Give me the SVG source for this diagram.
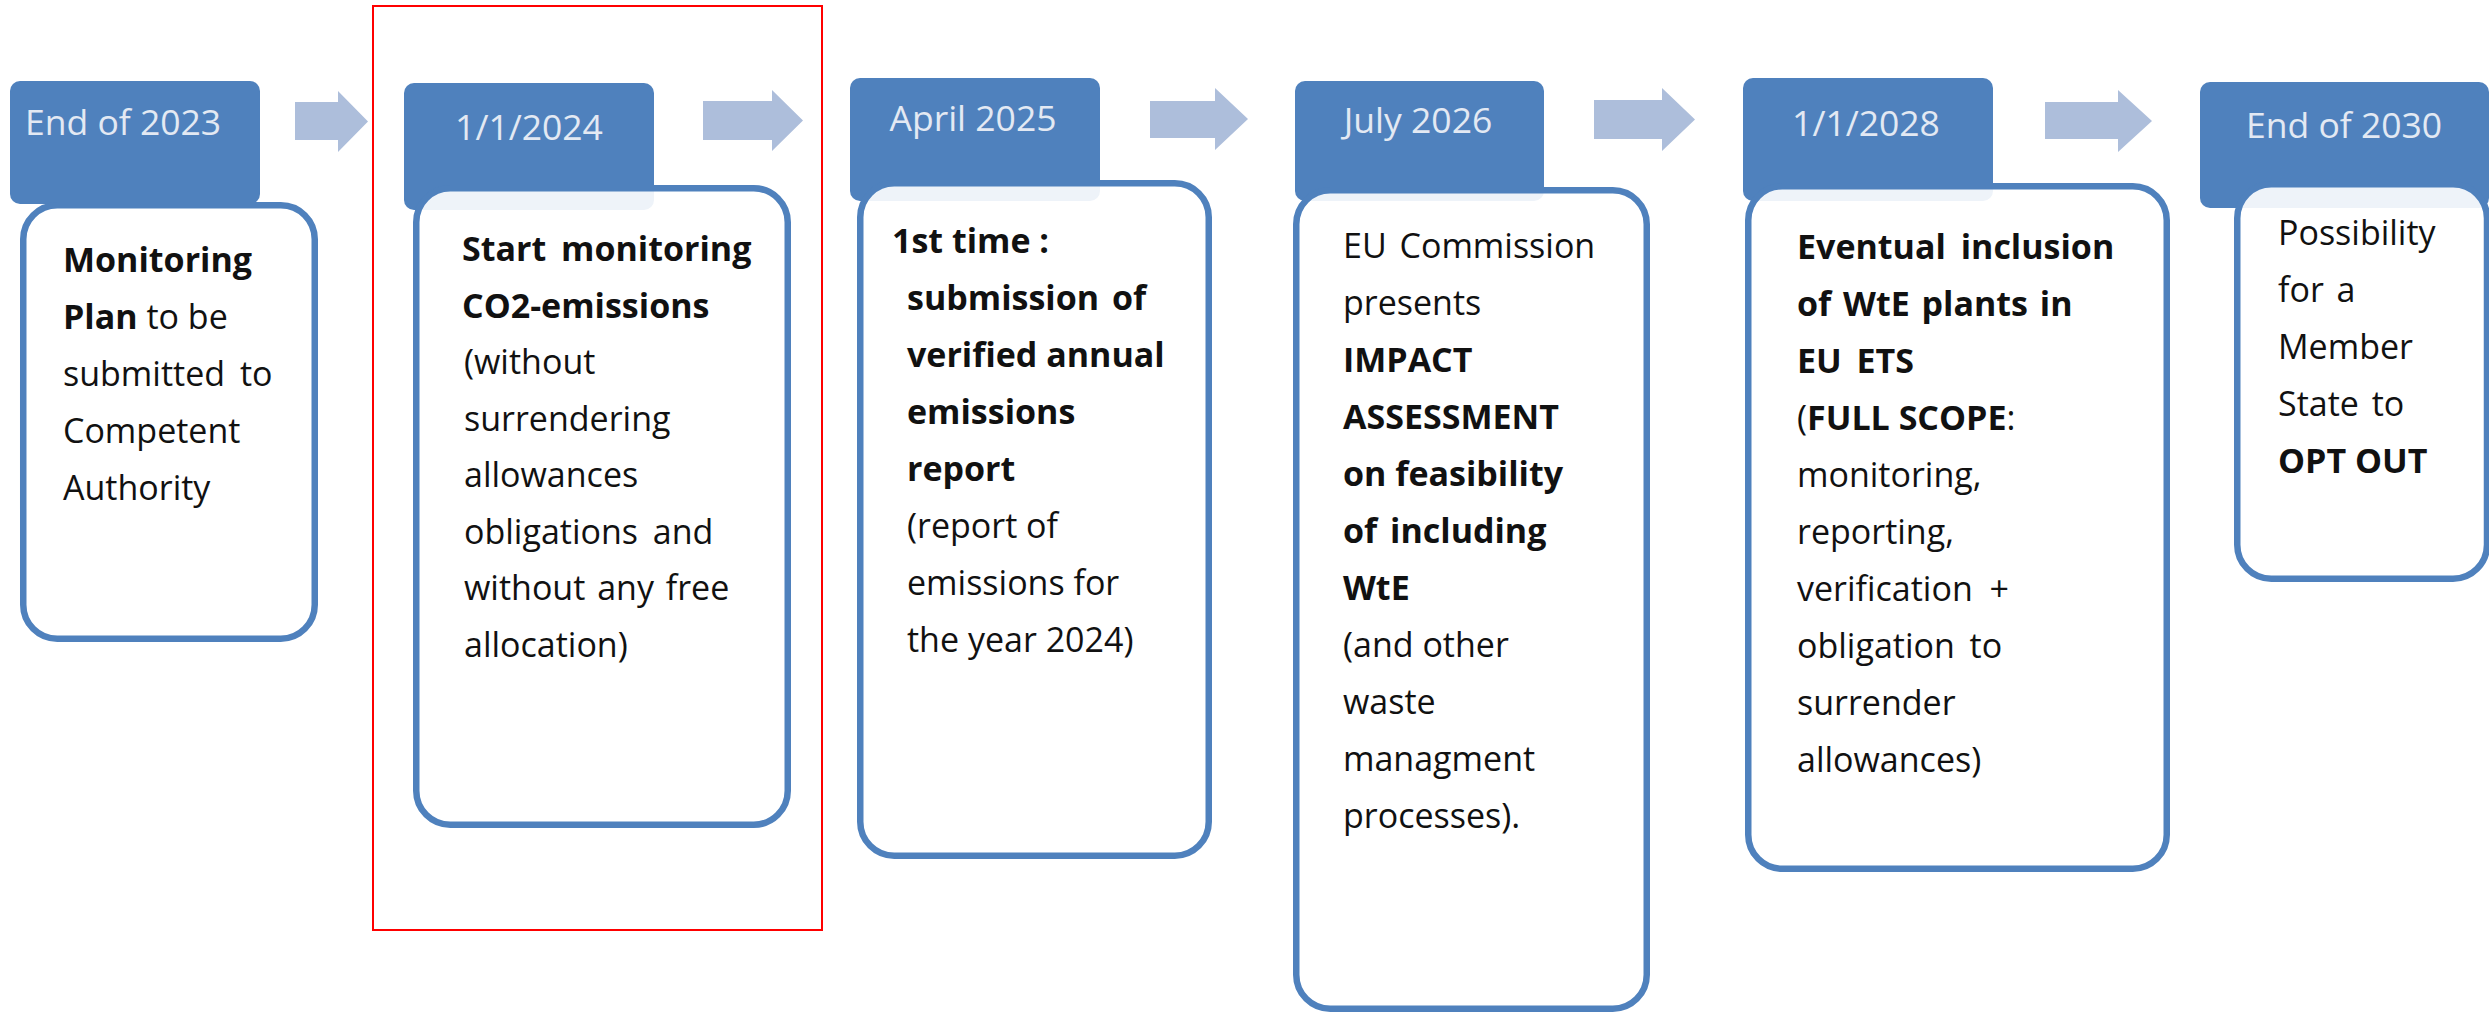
<svg xmlns="http://www.w3.org/2000/svg" width="2489" height="1013" viewBox="0 0 2489 1013">
  <style>
    .hdr { fill: #4f81bd; }
    .card { fill: #ffffff; fill-opacity: 0.9; stroke: #4f81bd; stroke-width: 6.5; }
    .ht { font-family: "Open Sans", "Noto Sans", sans-serif; font-size: 35.5px; fill: #e3e9f3; }
    .bt { font-family: "Open Sans", "Noto Sans", sans-serif; font-size: 34px; fill: #111111; }
    .b { font-weight: 700; }
    .arrow { fill: #adbedb; }
    .frame { fill: none; stroke: #ff0000; stroke-width: 2; }
  </style>
  <rect width="2489" height="1013" fill="#ffffff"/>

  <!-- block arrows between milestones -->
  <g id="connectors">
    <polygon class="arrow" points="295,102 338,102 338,91 368,121.5 338,152 338,140 295,140"/>
    <polygon class="arrow" points="703,101 772,101 772,90 803,120.5 772,151 772,140 703,140"/>
    <polygon class="arrow" points="1150,101 1215,101 1215,88 1248,119 1215,150 1215,138 1150,138"/>
    <polygon class="arrow" points="1594,100 1662,100 1662,88 1695,119.5 1662,151 1662,139 1594,139"/>
    <polygon class="arrow" points="2045,102 2118,102 2118,90 2152,121 2118,152 2118,139 2045,139"/>
  </g>

  <g id="node-2023">
    <rect class="hdr" x="10" y="81" width="250" height="123" rx="10"/>
    <text class="ht" x="25" y="135">End of 2023</text>
    <rect class="card" x="23.25" y="205.25" width="291.5" height="433.5" rx="34"/>
    <text class="bt" x="63" y="272"><tspan class="b">Monitoring</tspan></text>
    <text class="bt" x="63" y="329"><tspan class="b">Plan</tspan> to be</text>
    <text class="bt" x="63" y="386" word-spacing="6">submitted to</text>
    <text class="bt" x="63" y="443">Competent</text>
    <text class="bt" x="63" y="500">Authority</text>
  </g>

  <g id="node-2024">
    <rect class="hdr" x="404" y="83" width="250" height="127" rx="10"/>
    <text class="ht" x="529" y="140" text-anchor="middle">1/1/2024</text>
    <rect class="card" x="416.25" y="188.25" width="371.5" height="636.5" rx="34"/>
    <text class="bt b" x="462" y="261" word-spacing="6">Start monitoring</text>
    <text class="bt b" x="462" y="317.5">CO2-emissions</text>
    <text class="bt" x="464" y="374">(without</text>
    <text class="bt" x="464" y="430.5">surrendering</text>
    <text class="bt" x="464" y="487">allowances</text>
    <text class="bt" x="464" y="543.5" word-spacing="6">obligations and</text>
    <text class="bt" x="464" y="600" word-spacing="3">without any free</text>
    <text class="bt" x="464" y="656.5">allocation)</text>
  </g>

  <g id="node-2025">
    <rect class="hdr" x="850" y="78" width="250" height="123" rx="10"/>
    <text class="ht" x="973" y="131" text-anchor="middle">April 2025</text>
    <rect class="card" x="860.25" y="183.25" width="348.5" height="672.5" rx="34"/>
    <text class="bt b" x="892" y="253">1st time :</text>
    <text class="bt b" x="907" y="310" word-spacing="4">submission of</text>
    <text class="bt b" x="907" y="367">verified annual</text>
    <text class="bt b" x="907" y="424">emissions</text>
    <text class="bt b" x="907" y="481">report</text>
    <text class="bt" x="907" y="538">(report of</text>
    <text class="bt" x="907" y="595">emissions for</text>
    <text class="bt" x="907" y="652">the year 2024)</text>
  </g>

  <g id="node-2026">
    <rect class="hdr" x="1295" y="81" width="249" height="120" rx="10"/>
    <text class="ht" x="1418" y="133" text-anchor="middle">July 2026</text>
    <rect class="card" x="1296.25" y="190.25" width="350.5" height="818.5" rx="34"/>
    <text class="bt" x="1343" y="258" word-spacing="4">EU Commission</text>
    <text class="bt" x="1343" y="315">presents</text>
    <text class="bt b" x="1343" y="372">IMPACT</text>
    <text class="bt b" x="1343" y="429">ASSESSMENT</text>
    <text class="bt b" x="1343" y="486">on feasibility</text>
    <text class="bt b" x="1343" y="543" word-spacing="4">of including</text>
    <text class="bt b" x="1343" y="600">WtE</text>
    <text class="bt" x="1343" y="657">(and other</text>
    <text class="bt" x="1343" y="714">waste</text>
    <text class="bt" x="1343" y="771">managment</text>
    <text class="bt" x="1343" y="828">processes).</text>
  </g>

  <g id="node-2028">
    <rect class="hdr" x="1743" y="78" width="250" height="123" rx="10"/>
    <text class="ht" x="1866" y="136" text-anchor="middle">1/1/2028</text>
    <rect class="card" x="1748.25" y="186.25" width="418.5" height="682.5" rx="34"/>
    <text class="bt b" x="1797" y="259" word-spacing="6">Eventual inclusion</text>
    <text class="bt b" x="1797" y="316" word-spacing="3">of WtE plants in</text>
    <text class="bt b" x="1797" y="373" word-spacing="6">EU ETS</text>
    <text class="bt" x="1797" y="430">(<tspan class="b">FULL SCOPE</tspan>:</text>
    <text class="bt" x="1797" y="487">monitoring,</text>
    <text class="bt" x="1797" y="544">reporting,</text>
    <text class="bt" x="1797" y="601" word-spacing="8">verification +</text>
    <text class="bt" x="1797" y="658" word-spacing="6">obligation to</text>
    <text class="bt" x="1797" y="715">surrender</text>
    <text class="bt" x="1797" y="772">allowances)</text>
  </g>

  <g id="node-2030">
    <rect class="hdr" x="2200" y="82" width="289" height="126" rx="10"/>
    <text class="ht" x="2246" y="138">End of 2030</text>
    <rect class="card" x="2237.25" y="184.25" width="249.75" height="394.5" rx="34"/>
    <text class="bt" x="2278" y="245">Possibility</text>
    <text class="bt" x="2278" y="302" word-spacing="4">for a</text>
    <text class="bt" x="2278" y="359">Member</text>
    <text class="bt" x="2278" y="416" word-spacing="4">State to</text>
    <text class="bt b" x="2278" y="473">OPT OUT</text>
  </g>

  <!-- highlight frame around the 2024 milestone -->
  <g id="highlight">
    <rect class="frame" x="373" y="6" width="449" height="924"/>
  </g>
</svg>
